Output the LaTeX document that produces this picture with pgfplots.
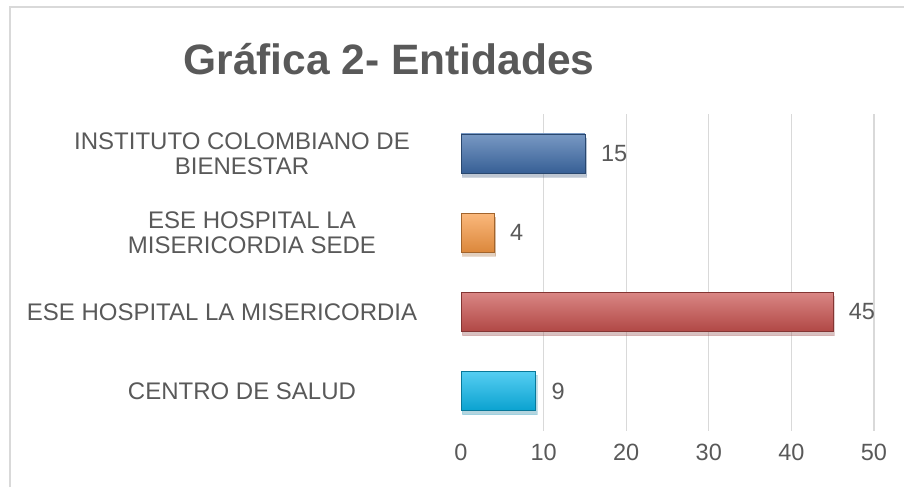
\documentclass[border=0pt]{standalone}
\usepackage{fontspec}
\setmainfont{Liberation Sans}
\usepackage{pgfplots}
\pgfplotsset{compat=1.18}
\usetikzlibrary{shadows}
\definecolor{txt}{HTML}{595959}
\definecolor{gridc}{HTML}{D9D9D9}
\definecolor{cblue}{HTML}{3F6DAA}
\definecolor{corange}{HTML}{F99A44}
\definecolor{cred}{HTML}{C9524F}
\definecolor{ccyan}{HTML}{0CB8EC}
\begin{document}
\begin{tikzpicture}
  \path[use as bounding box] (0,0) rectangle (904pt,487pt);
  \draw[gridc, line width=2pt] (10pt,0) -- (10pt,480pt) -- (904pt,480pt);
  \node[anchor=base, text=txt, font=\bfseries\fontsize{42.5}{46}\selectfont]
    at (389pt,412pt) {Gráfica 2- Entidades};
  \begin{axis}[
      at={(461pt,56.3pt)}, anchor=south west,
      scale only axis, width=413pt, height=317pt,
      xbar, bar width=0.49, bar shift=0pt,
      xmin=0, xmax=50, ymin=-0.5, ymax=3.5,
      axis line style={draw=none},
      xtick={10,20,30,40,50},
      extra x ticks={0},
      extra x tick style={grid=none},
      ytick=\empty,
      major tick length=0pt,
      xmajorgrids, grid style={gridc, line width=1.2pt},
      xticklabel style={yshift=-10pt},
      tick label style={text=txt, font=\fontsize{23.5}{25}\selectfont},
      /pgf/number format/assume math mode=true,
      nodes near coords,
      every node near coord/.append style={anchor=west, inner sep=0pt,
        xshift=16pt, text=txt, font=\fontsize{23.5}{25}\selectfont},
      clip=false,
      bevel/.style={draw=#1!65!black, top color=#1!70!white, middle color=#1,
        bottom color=#1!88!black,
        drop shadow={opacity=0.22, shadow xshift=1.5pt, shadow yshift=-4pt}},
    ]
    \addplot[bevel=cblue] coordinates {(15,3)};
    \addplot[bevel=corange] coordinates {(4,2)};
    \addplot[bevel=cred] coordinates {(45,1)};
    \addplot[bevel=ccyan] coordinates {(9,0)};
    \tikzset{lab/.style={align=center, text=txt, font=\fontsize{24}{25}\selectfont}}
    \node[lab] at (axis cs:0,3) [xshift=-219pt] {INSTITUTO COLOMBIANO DE\\BIENESTAR};
    \node[lab] at (axis cs:0,2) [xshift=-209pt] {ESE HOSPITAL LA\\MISERICORDIA SEDE};
    \node[lab] at (axis cs:0,1) [xshift=-239pt] {ESE HOSPITAL LA MISERICORDIA};
    \node[lab] at (axis cs:0,0) [xshift=-219pt] {CENTRO DE SALUD};
  \end{axis}
\end{tikzpicture}
\end{document}
